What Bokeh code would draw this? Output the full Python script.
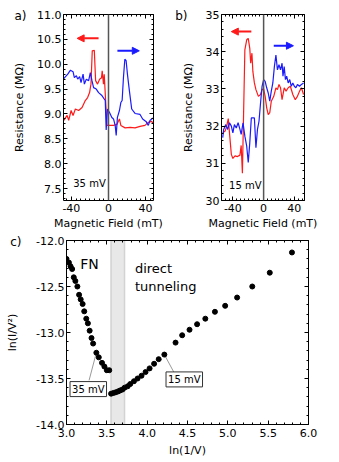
from bokeh.plotting import figure
from bokeh.models import (Range1d, SingleIntervalTicker, LinearAxis, Span, Arrow, FixedTicker,
                          NormalHead, Label, BoxAnnotation, NumeralTickFormatter,
                          CustomJSTickFormatter)
from bokeh.layouts import row, column
from bokeh.embed import file_html
from bokeh.resources import INLINE

FONT = "DejaVu Sans"
RED = "#ff1a1a"
BLUE = "#1a1aff"

# ---------------- data ----------------
# panel a (35 mV)
a_red_x = [-48.2, -44.6, -42.9, -40.3, -38.2, -35.7, -32.2, -28.5, -25, -22.5, -20.4, -18.9,
           -17.5, -15.3, -13.9, -11.8, -9.6, -7.5, -6.8, -5.4, -4.6, -3.2, -1.7, 1.8, 5.4,
           9, 11.8, 13.3, 17.9, 23.3, 28.6, 34, 39.3, 42.9, 46.5, 48.2]
a_red_y = [8.87, 8.97, 8.87, 9.07, 8.97, 9.1, 9.07, 9.13, 9.27, 9.33, 9.43, 9.6,
           10.27, 10.28, 9.67, 9.6, 9.7, 9.73, 9.87, 9.6, 9.8, 9.3, 8.77, 8.77, 8.77,
           8.79, 8.9, 8.77, 8.72, 8.73, 8.72, 8.75, 8.77, 8.83, 8.85, 8.81]
a_blue_x = [-48.2, -43.9, -41, -38.2, -36.8, -34.6, -33.2, -31.1, -29.6, -27.4, -26, -23.9,
            -21.4, -19.6, -17.8, -16.1, -13.2, -10.7, -7.1, -3.5, -2.5, -1.1, 1.1, 3.6,
            5.4, 7.2, 8.3, 9.6, 11.8, 13.3, 14.7, 16.1, 17.6, 19, 20.4, 22.5, 25, 28.6,
            34, 36.8, 40.4, 42.9, 44.7, 46.5, 48.2]
a_blue_y = [9.71, 9.8, 9.88, 9.85, 9.73, 9.77, 9.7, 9.75, 9.63, 9.8, 9.6, 9.7,
            9.67, 9.83, 9.67, 9.53, 9.5, 9.43, 9.37, 9.27, 8.68, 9.1, 9.03, 8.93,
            8.9, 8.77, 8.57, 8.93, 9.07, 9.23, 9.27, 9.73, 10.1, 10.07, 9.8, 9.47, 9.1, 9.01,
            8.99, 8.9, 8.85, 8.77, 8.87, 8.9, 8.92]

# panel b (15 mV)
b_red_x = [-53.2, -50, -48, -46, -42, -40, -37.2, -34, -30.8, -29.2, -27.6, -24.4, -22,
           -20, -18, -16.8, -15.2, -14, -12, -10, -6.8, -4, -2, 0, 2, 4, 6, 8, 10, 13.2,
           16, 18, 20, 22, 24, 26.8, 29.2, 32, 34.8, 38, 41.2, 44, 46.8, 49.2, 52]
b_red_y = [31.82, 31.87, 32.0, 32.2, 31.24, 31.13, 31.2, 31.18, 31.22, 31.48, 30.73, 34.05, 34.32,
           34.36, 34.09, 33.69, 33.96, 33.47, 33.16, 32.98, 32.8, 32.85, 32.98, 33.0, 32.8, 32.49,
           32.31, 32.36, 32.67, 32.8, 33.03, 32.98, 33.12, 33.03, 32.71, 33.03, 32.94, 33.03,
           33.07, 32.85, 32.71, 32.8, 32.94, 33.03, 32.85]
b_blue_x = [-53.2, -52, -49.2, -46.8, -44.4, -42, -40, -38, -35.6, -33.2, -30.8, -29.2, -26.8,
            -24.4, -22, -20, -18, -16, -12, -10, -8, -6, -4, -2, 0, 2, 4, 6, 8, 10, 12, 14,
            16, 18, 20, 22, 24, 25.2, 26.8, 28.4, 30, 32, 34, 36, 38, 40, 42, 44, 46.8,
            49.2, 52]
b_blue_y = [31.69, 31.91, 32.04, 31.91, 32.09, 32.0, 31.82, 32.04, 31.95, 32.09, 31.91, 31.78,
            32.09, 31.73, 31.46, 31.02, 31.55, 32.22, 32.22, 31.42, 31.91, 32.13, 32.62, 33.07,
            33.25, 33.2, 33.03, 32.89, 32.67, 32.94, 33.16, 33.6, 33.91, 33.51, 33.65, 33.51,
            33.69, 33.34, 33.6, 33.25, 33.34, 33.16, 33.25, 33.07, 33.16, 33.07, 33.03, 33.12,
            33.07, 33.12, 33.16]

# panel c
fn_x = [3.00, 3.03, 3.05, 3.07, 3.09, 3.11, 3.135, 3.156, 3.176, 3.20, 3.22, 3.245,
        3.265, 3.287, 3.31, 3.33, 3.37, 3.40, 3.44, 3.47, 3.50, 3.53]
fn_y = [-12.20, -12.24, -12.28, -12.31, -12.40, -12.44, -12.50, -12.59, -12.64, -12.69,
        -12.77, -12.85, -12.90, -12.98, -13.06, -13.12, -13.22, -13.27, -13.33, -13.37,
        -13.41, -13.41]
dt_x = [3.553, 3.582, 3.611, 3.64, 3.664, 3.693, 3.72, 3.758, 3.79, 3.836, 3.881, 3.93,
        3.98, 4.03, 4.086, 4.143, 4.213, 4.352, 4.434, 4.525, 4.619, 4.721, 4.84, 4.967,
        5.115, 5.303, 5.52, 5.795]
dt_y = [-13.665, -13.657, -13.65, -13.64, -13.63, -13.62, -13.60, -13.585, -13.56, -13.53,
        -13.50, -13.47, -13.43, -13.39, -13.34, -13.29, -13.24, -13.11, -13.03, -12.97,
        -12.91, -12.85, -12.775, -12.71, -12.62, -12.50, -12.35, -12.13]
fn_35mV_index = 16
dt_15mV_index = 16
band = [3.55, 3.72]


def make_fig(width, height, xr, yr, bl, br, bt, bb):
    p = figure(width=width, height=height, x_range=Range1d(*xr), y_range=Range1d(*yr),
               output_backend="svg", toolbar_location=None,
               min_border_left=bl, min_border_right=br, min_border_top=bt, min_border_bottom=bb)
    p.xgrid.visible = False
    p.ygrid.visible = False
    p.outline_line_color = None
    return p


def style_axis(ax, ticker, fmt, label=None, label_standoff=2, show=True, tick_standoff=2):
    ax.ticker = ticker
    ax.formatter = fmt
    ax.major_tick_in = 4
    ax.major_tick_out = 0
    ax.minor_tick_in = 2
    ax.minor_tick_out = 0
    ax.axis_line_color = "black"
    ax.major_tick_line_color = "black"
    ax.minor_tick_line_color = "black"
    ax.major_label_text_font = FONT
    if show:
        ax.major_label_text_color = "black"
        ax.major_label_text_font_size = "11px"
        ax.major_label_standoff = tick_standoff
        ax.axis_label = label
        ax.axis_label_text_font = FONT
        ax.axis_label_text_font_size = "11px"
        ax.axis_label_text_font_style = "normal"
        ax.axis_label_text_color = "black"
        ax.axis_label_standoff = label_standoff
    else:
        ax.major_label_text_color = None
        ax.major_label_text_font_size = "1px"
        ax.major_label_standoff = 0


def setup(p, xt, yt, xf, yf, xlabel, ylabel, ystand, xstand=2, tstand=2):
    style_axis(p.xaxis[0], xt, xf, xlabel, xstand, tick_standoff=tstand)
    style_axis(p.yaxis[0], yt, yf, ylabel, ystand, tick_standoff=2)
    top = LinearAxis()
    right = LinearAxis()
    p.add_layout(top, "above")
    p.add_layout(right, "right")
    style_axis(top, xt, xf, show=False)
    style_axis(right, yt, yf, show=False)


def panel_tag(p, text, yval, standoff):
    # an extra, line-less left axis carrying a single label: the panel letter
    ax = LinearAxis(ticker=FixedTicker(ticks=[yval]),
                    formatter=CustomJSTickFormatter(code='return "%s"' % text))
    ax.axis_line_color = None
    ax.major_tick_line_color = None
    ax.minor_tick_line_color = None
    ax.major_tick_in = 0
    ax.major_tick_out = 0
    ax.minor_tick_in = 0
    ax.minor_tick_out = 0
    ax.major_label_standoff = standoff
    ax.major_label_text_font = FONT
    ax.major_label_text_font_size = "12px"
    ax.major_label_text_color = "black"
    p.add_layout(ax, "left")


# ---------------- panel a ----------------
pa = make_fig(172, 232, (-48.5, 48.5), (7.26, 11.0), 63, 19, 14, 31)
setup(pa, SingleIntervalTicker(interval=40, num_minor_ticks=8),
      SingleIntervalTicker(interval=0.5, num_minor_ticks=5),
      NumeralTickFormatter(format="0"), NumeralTickFormatter(format="0.0"),
      "Magnetic Field (mT)", "Resistance (MΩ)", 8, xstand=2, tstand=3)
pa.add_layout(Span(location=0, dimension="height", line_color="#555555", line_width=1.5))
pa.line(a_red_x, a_red_y, line_color=RED, line_width=1.2)
pa.line(a_blue_x, a_blue_y, line_color=BLUE, line_width=1.2)
pa.add_layout(Arrow(end=NormalHead(size=7, fill_color=RED, line_color=RED),
                    x_start=-10.7, y_start=10.52, x_end=-33.8, y_end=10.52,
                    line_color=RED, line_width=2))
pa.add_layout(Arrow(end=NormalHead(size=7, fill_color=BLUE, line_color=BLUE),
                    x_start=9.6, y_start=10.27, x_end=33.2, y_end=10.27,
                    line_color=BLUE, line_width=2))
pa.add_layout(Label(x=-38, y=7.6, text="35 mV", text_font=FONT, text_font_size="10px",
                    text_baseline="middle", text_color="black"))
panel_tag(pa, "a)", 10.96, -16)

# ---------------- panel b ----------------
pb = make_fig(151, 232, (-54.8, 53.2), (30, 35), 42, 19, 14, 31)
setup(pb, SingleIntervalTicker(interval=40, num_minor_ticks=8),
      SingleIntervalTicker(interval=1, num_minor_ticks=5),
      NumeralTickFormatter(format="0"), NumeralTickFormatter(format="0"),
      "Magnetic Field (mT)", "Resistance (MΩ)", 8, xstand=2, tstand=3)
pb.add_layout(Span(location=0, dimension="height", line_color="#555555", line_width=1.5))
pb.line(b_red_x, b_red_y, line_color=RED, line_width=1.2)
pb.line(b_blue_x, b_blue_y, line_color=BLUE, line_width=1.2)
pb.add_layout(Arrow(end=NormalHead(size=7, fill_color=RED, line_color=RED),
                    x_start=-16, y_start=34.54, x_end=-42, y_end=34.54,
                    line_color=RED, line_width=2))
pb.add_layout(Arrow(end=NormalHead(size=7, fill_color=BLUE, line_color=BLUE),
                    x_start=13.2, y_start=34.16, x_end=38.8, y_end=34.16,
                    line_color=BLUE, line_width=2))
pb.add_layout(Label(x=-45, y=30.4, text="15 mV", text_font=FONT, text_font_size="10px",
                    text_baseline="middle", text_color="black"))
panel_tag(pb, "b)", 34.947, -9)

# ---------------- panel c ----------------
pc = make_fig(323, 227, (3.0, 6.0), (-14.0, -12.0), 66, 15, 8, 34)
setup(pc, SingleIntervalTicker(interval=0.5, num_minor_ticks=5),
      SingleIntervalTicker(interval=0.5, num_minor_ticks=5),
      NumeralTickFormatter(format="0.0"), NumeralTickFormatter(format="0.0"),
      "ln(1/V)", "ln(I/V²)", 14, xstand=4, tstand=4)
pc.add_layout(BoxAnnotation(left=band[0], right=band[1], fill_color="#e8e8e8", fill_alpha=1,
                            line_color="#8c8c8c", line_width=1.5, level="underlay"))
pc.segment(x0=[fn_x[fn_35mV_index]], y0=[fn_y[fn_35mV_index]], x1=[3.28], y1=[-13.52],
           line_color="#9a9a9a", line_width=1)
pc.segment(x0=[dt_x[dt_15mV_index]], y0=[dt_y[dt_15mV_index]], x1=[4.33], y1=[-13.43],
           line_color="#9a9a9a", line_width=1)
pc.scatter(fn_x, fn_y, size=5, color="black")
pc.scatter(dt_x, dt_y, size=5, color="black")
pc.add_layout(Label(x=3.27, y=-13.615, text="35 mV", text_align="center", text_baseline="middle",
                    text_font=FONT, text_font_size="10px", text_color="black",
                    border_line_color="#333333", border_line_width=1,
                    background_fill_color="white", padding=2))
pc.add_layout(Label(x=4.46, y=-13.51, text="15 mV", text_align="center", text_baseline="middle",
                    text_font=FONT, text_font_size="10px", text_color="black",
                    border_line_color="#333333", border_line_width=1,
                    background_fill_color="white", padding=2))
pc.add_layout(Label(x=3.17, y=-12.26, text="FN", text_font=FONT, text_font_size="14px",
                    text_baseline="middle", text_color="black"))
pc.add_layout(Label(x=3.848, y=-12.30, text="direct", text_font=FONT, text_font_size="13px",
                    text_baseline="middle", text_color="black"))
pc.add_layout(Label(x=3.848, y=-12.50, text="tunneling", text_font=FONT, text_font_size="13px",
                    text_baseline="middle", text_color="black"))
panel_tag(pc, "c)", -12.02, -18)

layout = column(row(pa, pb), pc)
open("out.html", "w").write(file_html(layout, INLINE))
